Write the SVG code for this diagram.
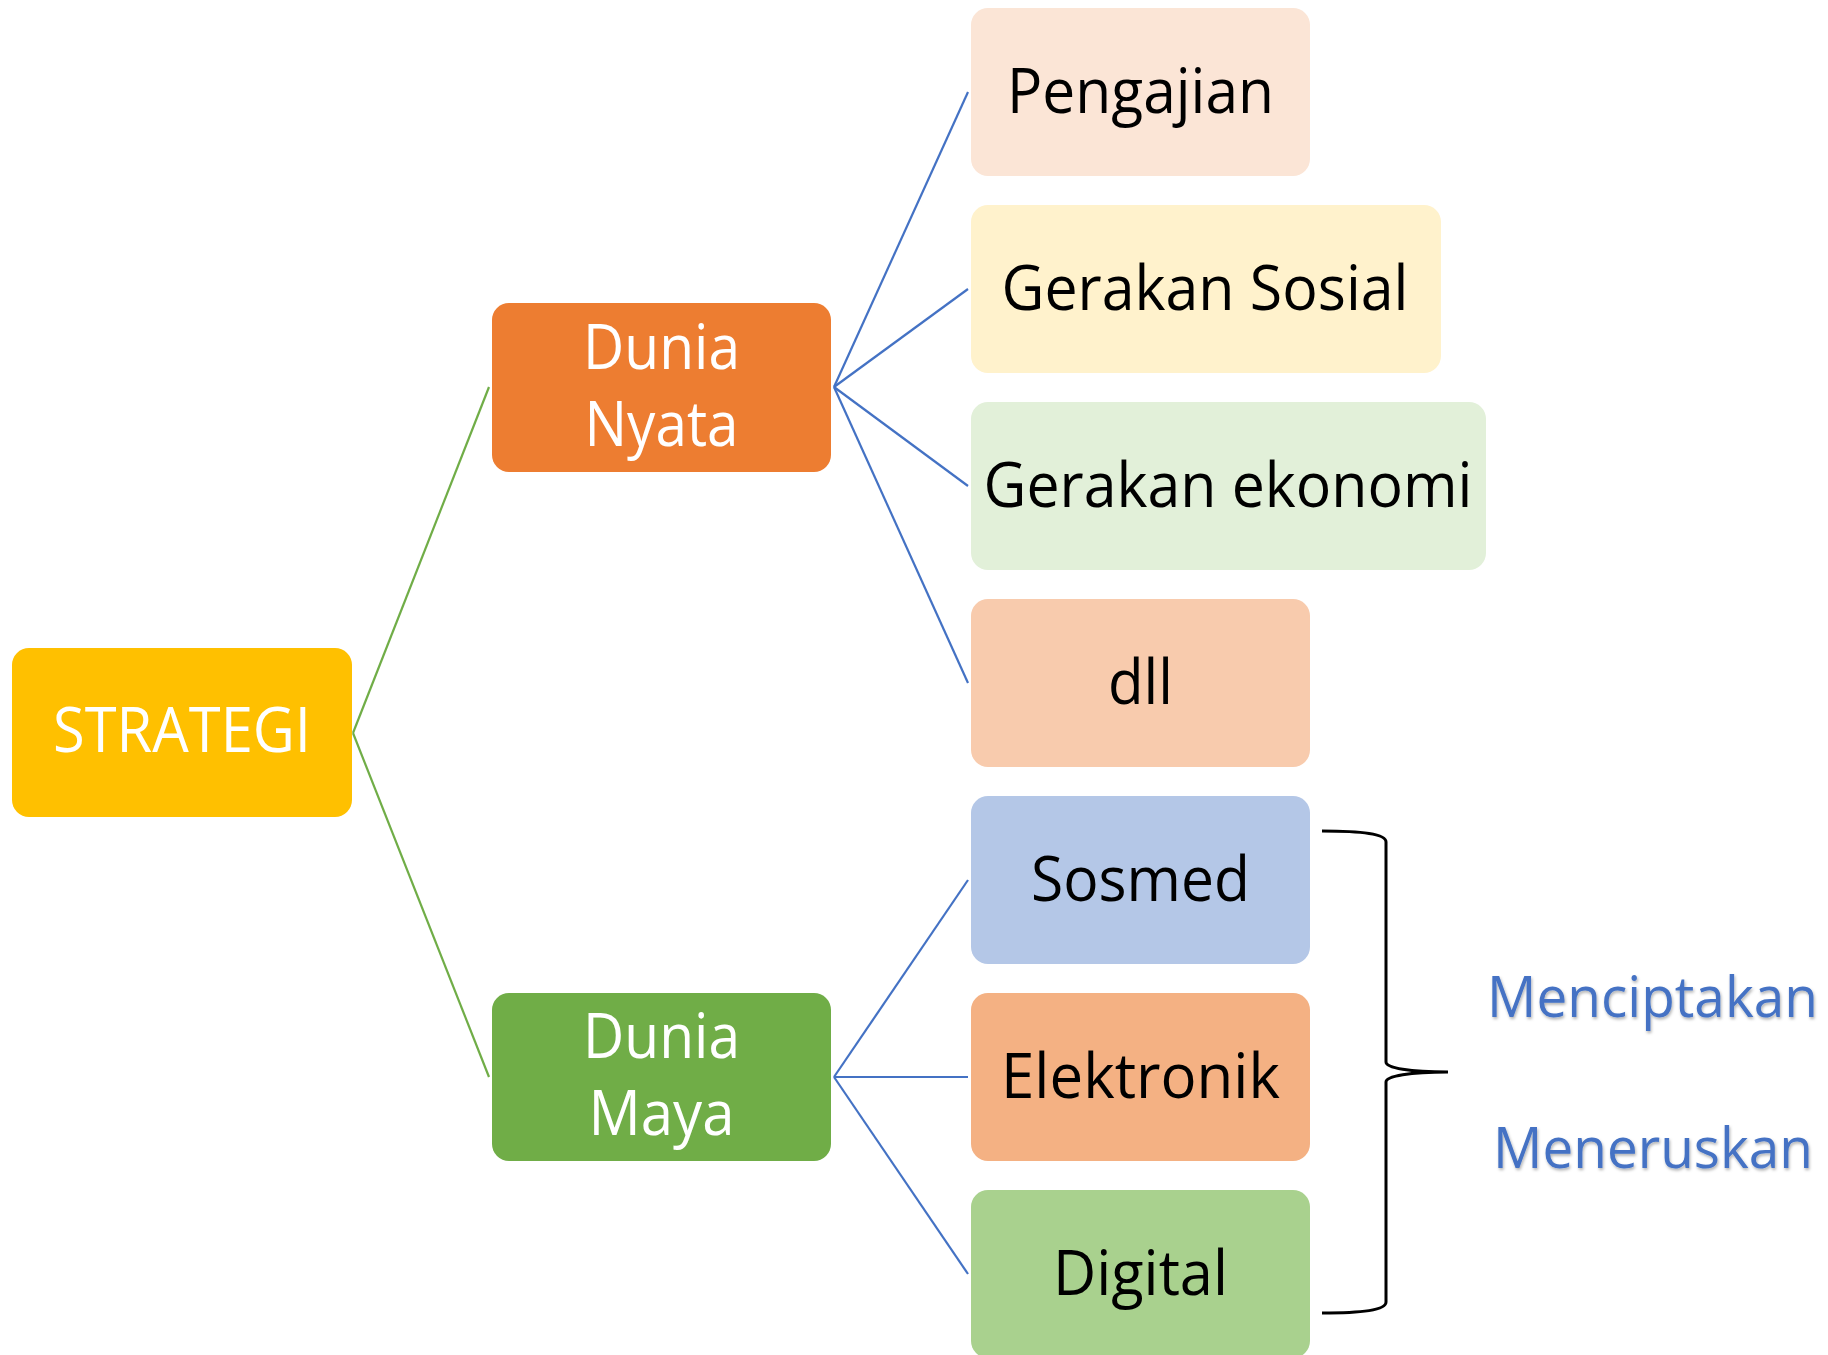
<svg xmlns="http://www.w3.org/2000/svg" width="1828" height="1355" viewBox="0 0 1828 1355">
  <defs>
    <style>
      .box { stroke: none; }
      .lbl { font-family: "Open Sans", "Noto Sans", "Liberation Sans", sans-serif; font-size: 62px; text-anchor: middle; }
      .w { fill: #FFFFFF; }
      .k { fill: #000000; }
      .side { font-family: "Open Sans", "Noto Sans", "Liberation Sans", sans-serif; font-size: 57px; text-anchor: middle; fill: #4472C4; filter: url(#shadow); }
      .green { stroke: #70AD47; stroke-width: 2.2; fill: none; }
      .blue { stroke: #4472C4; stroke-width: 2.2; fill: none; }
      .brace { stroke: #000000; stroke-width: 3; fill: none; }
    </style>
    <filter id="shadow" x="-5%" y="-20%" width="110%" height="150%">
      <feDropShadow dx="1" dy="2" stdDeviation="1.5" flood-color="#000000" flood-opacity="0.3"/>
    </filter>
  </defs>
  <rect width="1828" height="1355" fill="#FFFFFF"/>

  <g id="connectors">
    <line class="green" x1="353" y1="733" x2="489" y2="387"/>
    <line class="green" x1="353" y1="733" x2="489" y2="1077"/>
    <line class="blue" x1="834" y1="387" x2="968" y2="92"/>
    <line class="blue" x1="834" y1="387" x2="968" y2="289"/>
    <line class="blue" x1="834" y1="387" x2="968" y2="486"/>
    <line class="blue" x1="834" y1="387" x2="968" y2="683"/>
    <line class="blue" x1="834" y1="1077" x2="968" y2="880"/>
    <line class="blue" x1="834" y1="1077" x2="968" y2="1077"/>
    <line class="blue" x1="834" y1="1077" x2="968" y2="1274"/>
  </g>

  <g id="node-strategi">
    <rect class="box" x="12" y="648" width="340" height="169" rx="17" fill="#FFC000"/>
    <text class="lbl w" x="182" y="752" textLength="258" lengthAdjust="spacingAndGlyphs">STRATEGI</text>
  </g>

  <g id="node-dunia-nyata">
    <rect class="box" x="492" y="303" width="339" height="169" rx="17" fill="#ED7D31"/>
    <text class="lbl w"><tspan x="661.5" y="369" textLength="157" lengthAdjust="spacingAndGlyphs">Dunia</tspan><tspan x="661.5" y="446" textLength="154" lengthAdjust="spacingAndGlyphs">Nyata</tspan></text>
  </g>

  <g id="node-dunia-maya">
    <rect class="box" x="492" y="993" width="339" height="168" rx="17" fill="#70AD47"/>
    <text class="lbl w"><tspan x="661.5" y="1058" textLength="157" lengthAdjust="spacingAndGlyphs">Dunia</tspan><tspan x="661.5" y="1135" textLength="146" lengthAdjust="spacingAndGlyphs">Maya</tspan></text>
  </g>

  <g id="node-pengajian">
    <rect class="box" x="971" y="8" width="339" height="168" rx="17" fill="#FBE5D6"/>
    <text class="lbl k" x="1140.5" y="113" textLength="267" lengthAdjust="spacingAndGlyphs">Pengajian</text>
  </g>

  <g id="node-gerakan-sosial">
    <rect class="box" x="971" y="205" width="470" height="168" rx="17" fill="#FFF2CC"/>
    <text class="lbl k" x="1205" y="310" textLength="407" lengthAdjust="spacingAndGlyphs">Gerakan Sosial</text>
  </g>

  <g id="node-gerakan-ekonomi">
    <rect class="box" x="971" y="402" width="515" height="168" rx="17" fill="#E2F0D9"/>
    <text class="lbl k" x="1228" y="507" textLength="489" lengthAdjust="spacingAndGlyphs">Gerakan ekonomi</text>
  </g>

  <g id="node-dll">
    <rect class="box" x="971" y="599" width="339" height="168" rx="17" fill="#F8CBAD"/>
    <text class="lbl k" x="1140.5" y="704" textLength="65" lengthAdjust="spacingAndGlyphs">dll</text>
  </g>

  <g id="node-sosmed">
    <rect class="box" x="971" y="796" width="339" height="168" rx="17" fill="#B4C7E7"/>
    <text class="lbl k" x="1140.5" y="901" textLength="219" lengthAdjust="spacingAndGlyphs">Sosmed</text>
  </g>

  <g id="node-elektronik">
    <rect class="box" x="971" y="993" width="339" height="168" rx="17" fill="#F4B183"/>
    <text class="lbl k" x="1140.5" y="1098" textLength="279" lengthAdjust="spacingAndGlyphs">Elektronik</text>
  </g>

  <g id="node-digital">
    <rect class="box" x="971" y="1190" width="339" height="168" rx="17" fill="#A9D18E"/>
    <text class="lbl k" x="1140.5" y="1295" textLength="175" lengthAdjust="spacingAndGlyphs">Digital</text>
  </g>

  <g id="brace">
    <path class="brace" d="M1322,831 C1362,831 1386,834 1386,842 L1386,1062 C1386,1068 1410,1072 1448,1072 C1410,1072 1386,1076 1386,1082 L1386,1302 C1386,1310 1362,1313 1322,1313"/>
  </g>

  <g id="labels">
    <text class="side" x="1652.5" y="1017" textLength="331" lengthAdjust="spacingAndGlyphs">Menciptakan</text>
    <text class="side" x="1653" y="1168" textLength="320" lengthAdjust="spacingAndGlyphs">Meneruskan</text>
  </g>
</svg>
